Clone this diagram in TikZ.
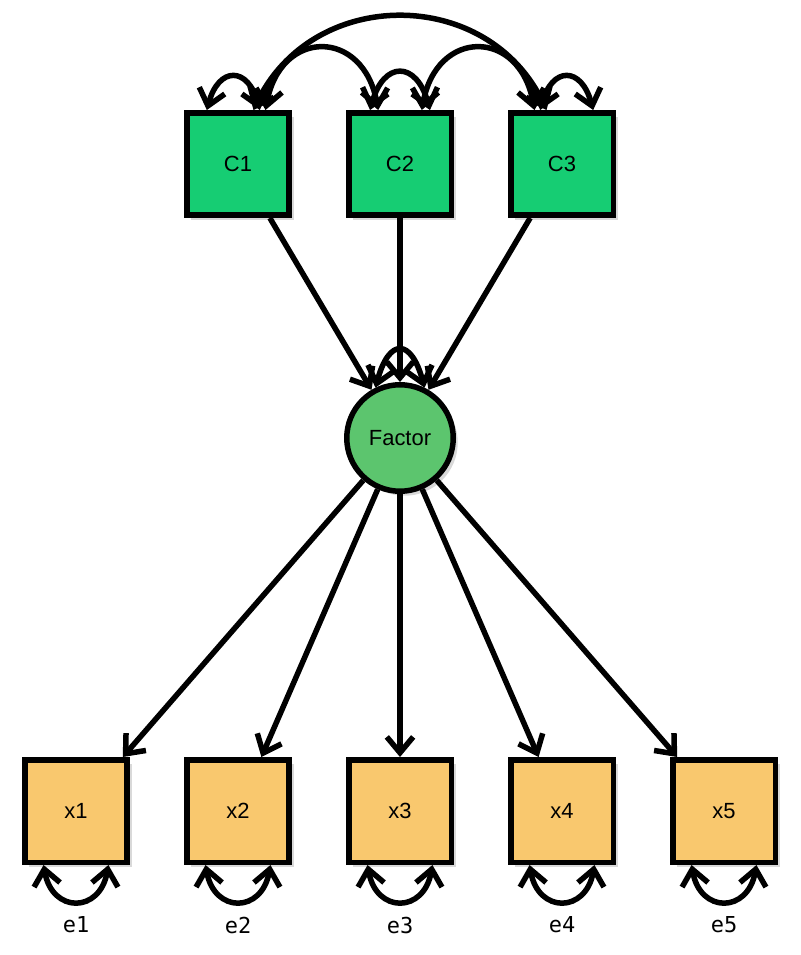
\documentclass[tikz,border=0pt]{standalone}
\usepackage{fontspec}
\setmainfont{Liberation Sans}
\setmonofont{DejaVu Sans Mono}
\usetikzlibrary{arrows.meta,shadows}
\definecolor{cgreen}{RGB}{22,205,115}
\definecolor{fgreen}{RGB}{92,197,110}
\definecolor{xorange}{RGB}{249,200,110}

\begin{document}
\begin{tikzpicture}[x=0.02cm,y=-0.02cm]
                \tikzstyle{every node}+=[font=\fontsize{12.5}{14}\selectfont]
                \tikzstyle{obs}=[draw=black, line width=0.11cm, minimum size=2.05cm, inner sep=0pt,
                  drop shadow={shadow xshift=0.09cm, shadow yshift=-0.09cm, opacity=0.3}]
                \tikzstyle{lat}=[obs, circle, minimum size=2.13cm]
                \tikzstyle{reg}=[line width=0.11cm, -{Straight Barb[length=9pt,width=15pt]}]
                \tikzstyle{cov}=[line width=0.11cm, {Straight Barb[length=9pt,width=15pt]}-{Straight Barb[length=9pt,width=15pt]}]
                \useasboundingbox (0,0) rectangle (800,955);
                % covariates
                \node [obs, fill=cgreen] (c1) at (238,164) {C1};
                \node [obs, fill=cgreen] (c2) at (400,164) {C2};
                \node [obs, fill=cgreen] (c3) at (562,164) {C3};
                % factor
                \node [lat, fill=fgreen] (factor) at (400,438) {Factor};
                % indicators
                \node [obs, fill=xorange] (x1) at (76,811) {x1};
                \node [obs, fill=xorange] (x2) at (238,811) {x2};
                \node [obs, fill=xorange] (x3) at (400,811) {x3};
                \node [obs, fill=xorange] (x4) at (562,811) {x4};
                \node [obs, fill=xorange] (x5) at (724,811) {x5};
                \node [font=\ttfamily\fontsize{12.5}{14}\selectfont] (e1) at (76,925) {e1};
                \node [font=\ttfamily\fontsize{12.5}{14}\selectfont] (e2) at (238,925) {e2};
                \node [font=\ttfamily\fontsize{12.5}{14}\selectfont] (e3) at (400,925) {e3};
                \node [font=\ttfamily\fontsize{12.5}{14}\selectfont] (e4) at (562,925) {e4};
                \node [font=\ttfamily\fontsize{12.5}{14}\selectfont] (e5) at (724,925) {e5};
                % paths
                \foreach \c in {c1,c2,c3}
                  \draw [reg] (\c) -- (factor);
                \foreach \i in {1,...,5}
                  \draw [reg] (factor) -- (x\i);
                % covariances
                \draw [cov] (c1.120) to [out=75, in=105, looseness=2.2] (c1.68);
                \draw [cov] (c2.119) to [out=75, in=105, looseness=2.2] (c2.61);
                \draw [cov] (c3.112) to [out=75, in=105, looseness=2.2] (c3.60);
                \draw [cov] (c1.63) to [out=80, in=100, looseness=1.9] (c2.112);
                \draw [cov] (c2.68) to [out=80, in=100, looseness=1.9] (c3.117);
                \draw [cov] (c1.74) to [out=65, in=115, looseness=1.2] (c3.106);
                \draw [cov] (factor.116) to [out=75, in=105, looseness=2.7] (factor.64);
                \foreach \i in {1,...,5}
                  \draw [cov] (x\i.239) to [out=-80, in=-100, looseness=1.95] (x\i.301);
            \end{tikzpicture}
\end{document}
